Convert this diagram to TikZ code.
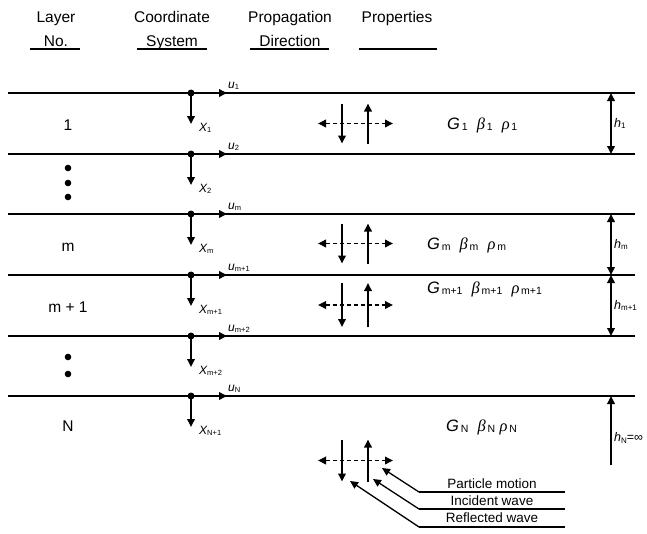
\documentclass[tikz,border=0pt]{standalone}
\usepackage{fontspec}
\setmainfont{Liberation Sans}
\newfontfamily\grk{Liberation Serif}
\usetikzlibrary{arrows.meta}
\newcommand\lsub[1]{\raisebox{-1.6pt}{\fontsize{7.5}{7.5}\selectfont\upshape #1}}
\newcommand\psub[1]{\raisebox{-1.2pt}{\fontsize{10.5}{10.5}\selectfont\upshape\,#1}}
\newcommand\hsub[1]{\raisebox{-1.4pt}{\fontsize{8}{8}\selectfont\upshape #1}}
\tikzset{
  tip/.style={-{Triangle[length=8pt,width=7.5pt]}},
  dtip/.style={{Triangle[length=8pt,width=7.5pt]}-{Triangle[length=8pt,width=7.5pt]}},
  layerline/.style={line width=1.9pt},
  arr/.style={line width=1.8pt},
  hdr/.style={font=\fontsize{15.5}{18}\selectfont, inner sep=0pt, anchor=base},
  lay/.style={font=\fontsize{15.5}{18}\selectfont, inner sep=0pt},
  ulab/.style={font=\fontsize{12}{12}\selectfont\itshape, inner sep=0pt, anchor=base west},
  prop/.style={font=\fontsize{16.5}{18}\selectfont, inner sep=0pt, anchor=base west},
  hlab/.style={font=\fontsize{12.5}{12}\selectfont\itshape, inner sep=0pt, anchor=west},
  leg/.style={font=\fontsize{13.5}{14}\selectfont, inner sep=0pt},
}
\newcommand\propag[3]{% name, center y, half length
  \coordinate (#1h1) at (318,#2); \coordinate (#1h2) at (393,#2);
  \coordinate (#1d1) at (342,#2-#3); \coordinate (#1d2) at (342,#2+#3);
  \coordinate (#1u1) at (368,#2+#3); \coordinate (#1u2) at (368,#2-#3);
  \draw[arr,dtip,dash pattern=on 4pt off 3pt] (#1h1) -- (#1h2);
  \draw[arr,tip] (#1d1) -- (#1d2);
  \draw[arr,tip] (#1u1) -- (#1u2);
}
\newcommand\coordsys[4]{% name, y, u text, X text
  \coordinate (#1o) at (191,#2);
  \coordinate (#1r) at (227,#2);
  \coordinate (#1d) at (191,#2+31);
  \draw[arr,tip] (#1o) -- (#1r);
  \draw[arr,tip] (#1o) -- (#1d);
  \fill (#1o) circle (3.5);
  \node[ulab] (#1u) at (228,#2-5) {u\lsub{#3}};
  \node[ulab] (#1x) at (199,#2+38) {X\lsub{#4}};
}
\begin{document}
\begin{tikzpicture}[x=1pt,y=-1pt]
\useasboundingbox (0,0) rectangle (647,533);
% headers
\node[hdr] (hL1) at (56,22) {Layer};
\node[hdr] (hL2) at (56,46) {No.};
\node[hdr] (hC1) at (172,22) {Coordinate};
\node[hdr] (hC2) at (172,46) {System};
\node[hdr] (hP1) at (290,22) {Propagation};
\node[hdr] (hP2) at (290,46) {Direction};
\node[hdr] (hR1) at (397,22) {Properties};
\foreach \a/\b in {30/80,137/207,250/329,359/437}
  \draw[line width=2pt] (\a,49) -- (\b,49);
% layer lines
\foreach \y [count=\i] in {93,154,214,275,336,396}{
  \coordinate (L\i a) at (8,\y); \coordinate (L\i b) at (635,\y);
  \draw[layerline] (L\i a) -- (L\i b);
}
% layer labels
\node[lay] (n1) at (68,125) {1};
\node[lay] (nm) at (68,247) {m};
\node[lay] (nm1) at (68,307) {m + 1};
\node[lay] (nN) at (68,426) {N};
\foreach \y in {168,183,197,357,374} \fill (68,\y) circle (3.3);
% coordinate systems
\coordsys{c1}{93}{1}{1}
\coordsys{c2}{154}{2}{2}
\coordsys{c3}{214}{m}{m}
\coordsys{c4}{275}{m+1}{m+1}
\coordsys{c5}{336}{m+2}{m+2}
\coordsys{c6}{396}{N}{N+1}
% propagation
\propag{p1}{123.5}{20}
\propag{pm}{243.5}{20}
\propag{pn}{305}{22}
\propag{pl}{460.5}{21}
% properties
\node[prop] (g1) at (447,129) {{\itshape G}\psub{1}\ \ {\grk\itshape β}\psub{1}\ \ {\grk\itshape ρ}\psub{1}};
\node[prop] (gm) at (427,249) {{\itshape G}\psub{m}\ \ {\grk\itshape β}\psub{m}\ \ {\grk\itshape ρ}\psub{m}};
\node[prop] (gm1) at (427,293) {{\itshape G}\psub{m+1}\ \ {\grk\itshape β}\psub{m+1}\ \ {\grk\itshape ρ}\psub{m+1}};
\node[prop] (gN) at (446,431) {{\itshape G}\psub{N}\ \ {\grk\itshape β}\psub{N}\ {\grk\itshape ρ}\psub{N}};
% thickness arrows
\draw[arr,dtip] (611,93) -- (611,154);
\draw[arr,dtip] (611,214) -- (611,275);
\draw[arr,dtip] (611,275) -- (611,336);
\coordinate (hNb) at (611,465);
\draw[arr,tip] (hNb) -- (611,396);
\node[hlab] (h1) at (614,123.5) {h\hsub{1}};
\node[hlab] (hm) at (614,244.5) {h\hsub{m}};
\node[hlab] (hm1) at (614,305.5) {h\hsub{m+1}};
\node[hlab] (hN) at (614,438) {h\hsub{N}{\upshape =∞}};
% legend
\node[leg] (t1) at (492,484) {Particle motion};
\node[leg] (t2) at (492,501) {Incident wave};
\node[leg] (t3) at (492,518) {Reflected wave};
\coordinate (a1) at (419,492); \coordinate (b1) at (565,492);
\coordinate (a2) at (419,509); \coordinate (b2) at (565,509);
\coordinate (a3) at (419,527); \coordinate (b3) at (565,527);
\draw[line width=1.4pt] (a1) -- (b1);
\draw[line width=1.4pt] (a2) -- (b2);
\draw[line width=1.4pt] (a3) -- (b3);
\draw[line width=1.3pt,tip] (a1) -- (382,468);
\draw[line width=1.3pt,tip] (a2) -- (373,479);
\draw[line width=1.3pt,tip] (a3) -- (350,481);
\end{tikzpicture}
\end{document}
